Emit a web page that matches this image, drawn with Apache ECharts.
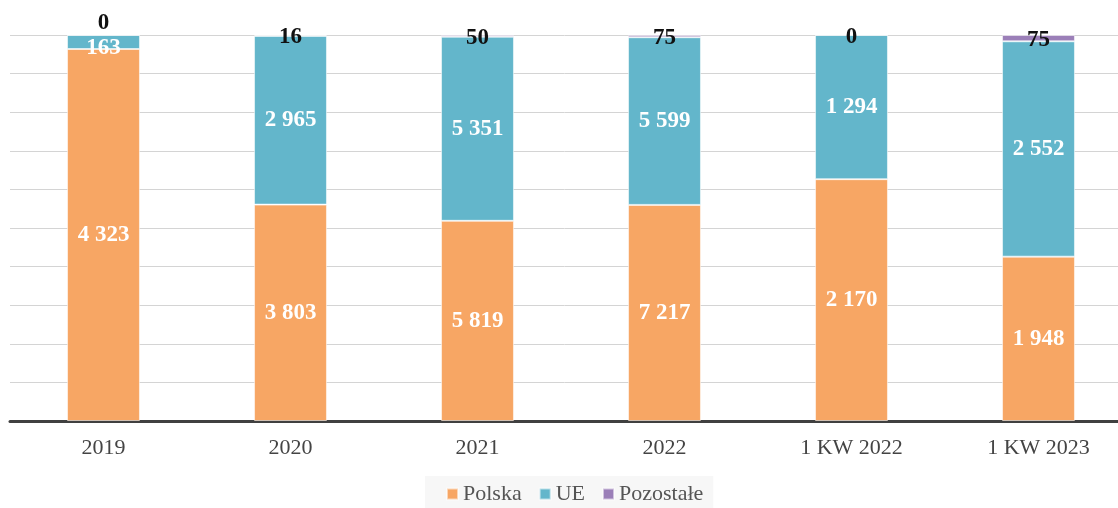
<!DOCTYPE html>
<html>
<head>
<meta charset="utf-8">
<script src="https://cdn.jsdelivr.net/npm/echarts@6/dist/echarts.min.js"></script>
<style>
  html, body { margin: 0; padding: 0; background: #ffffff; }
  #chart { width: 1118px; height: 508px; }
</style>
</head>
<body>
<div id="chart"></div>
<script>
// Categories and absolute values per origin
const categories = ['2019', '2020', '2021', '2022', '1 KW 2022', '1 KW 2023'];
const polska = [4323, 3803, 5819, 7217, 2170, 1948];
const ue = [163, 2965, 5351, 5599, 1294, 2552];
const pozostale = [0, 16, 50, 75, 0, 75];

const FONT = '"Liberation Serif", "DejaVu Serif", serif';

// Column totals for the 100% stacked layout
const totals = categories.map((_, i) => polska[i] + ue[i] + pozostale[i]);
const share = (arr) => arr.map((v, i) => ({ value: v / totals[i] * 100, raw: v }));

const fmt = (v) => String(v).replace(/\B(?=(\d{3})+(?!\d))/g, ' ');

function makeSeries(name, arr, color, labelColor, extra) {
  const data = share(arr);
  if (extra) extra(data);
  return {
    name: name,
    type: 'bar',
    stack: 'total',
    barWidth: '39%',
    data: data,
    itemStyle: { color: color, borderColor: 'rgba(255,255,255,0.55)', borderWidth: 1 },
    label: {
      show: true,
      position: 'inside',
      color: labelColor,
      fontFamily: FONT,
      fontWeight: 'bold',
      fontSize: 23,
      formatter: (p) => fmt(p.data.raw)
    }
  };
}

const chart = echarts.init(document.getElementById('chart'));
chart.setOption({
  animation: false,
  backgroundColor: '#ffffff',
  // plot area runs slightly past the right edge of the canvas
  grid: { left: 10, top: 35, bottom: 87, width: 1122, containLabel: false, outerBoundsMode: 'none' },
  legend: {
    bottom: 0,
    left: 425,
    itemWidth: 11,
    itemHeight: 11,
    itemGap: 17,
    icon: 'rect',
    backgroundColor: '#f7f7f7',
    padding: [7, 10, 3, 21],
    textStyle: { fontFamily: FONT, fontSize: 22, color: '#555555' },
    data: ['Polska', 'UE', 'Pozostałe']
  },
  xAxis: {
    type: 'category',
    data: categories,
    axisTick: { show: false },
    axisLine: { lineStyle: { color: '#404040', width: 3 } },
    axisLabel: { fontFamily: FONT, fontSize: 22, color: '#444444', margin: 16 }
  },
  yAxis: {
    type: 'value',
    min: 0,
    max: 100,
    interval: 10,
    axisLabel: { show: false },
    axisLine: { show: false },
    axisTick: { show: false },
    splitLine: { lineStyle: { color: '#d4d4d4', width: 1 } }
  },
  series: [
    makeSeries('Polska', polska, '#F7A664', '#ffffff'),
    makeSeries('UE', ue, '#63B6CB', '#ffffff', (d) => {
      d[0].label = { offset: [0, 6] };
    }),
    makeSeries('Pozostałe', pozostale, '#9B7FB8', '#111111', (d) => {
      d.forEach((item) => { item.label = { offset: [0, 2] }; });
      d[0].label = { offset: [0, -12] };
    })
  ]
});
</script>
</body>
</html>
